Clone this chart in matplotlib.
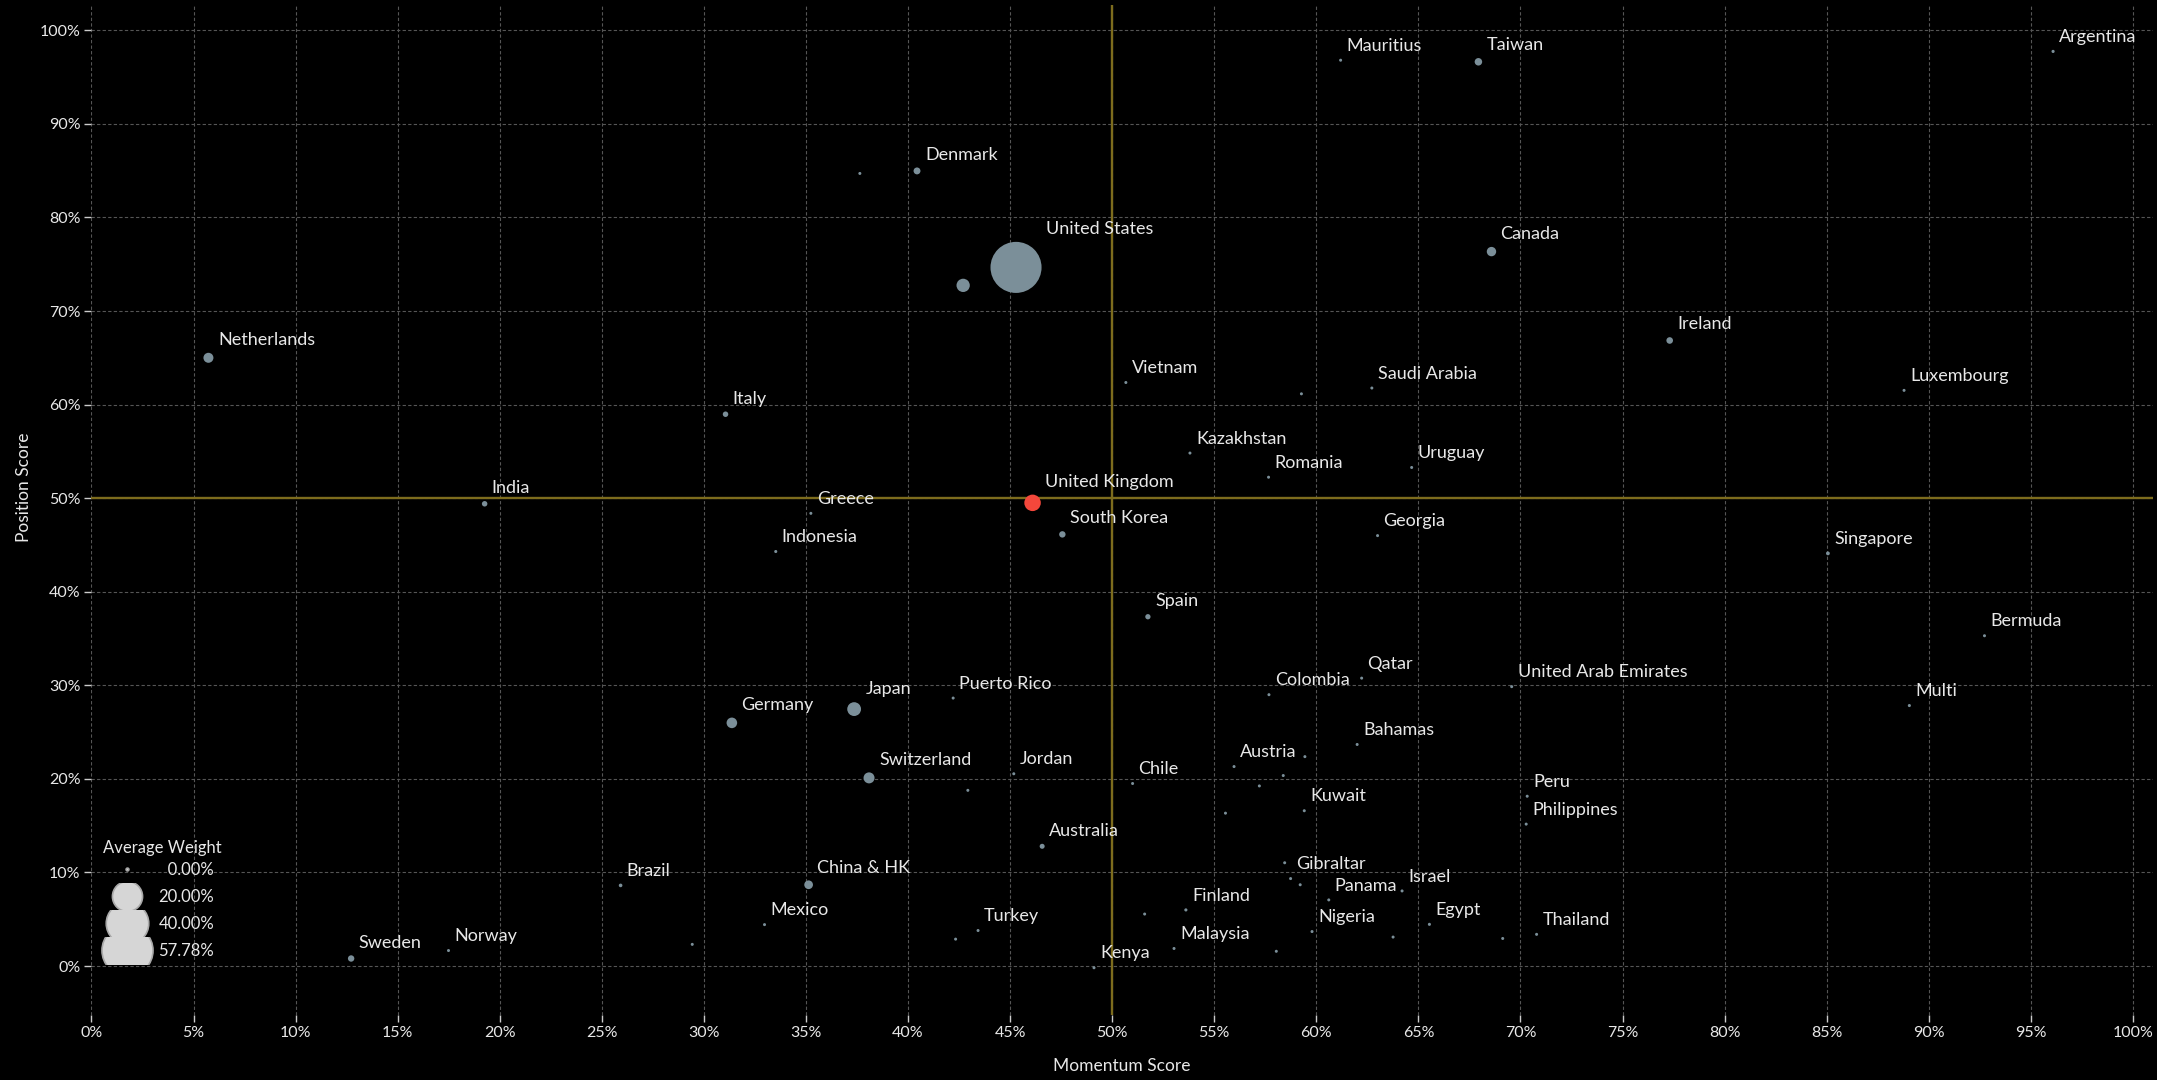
#scatter of momentum vs position score by country, bubble size = average weight
import matplotlib.pyplot as plt
import numpy as np
from matplotlib.lines import Line2D
from matplotlib.ticker import MultipleLocator, PercentFormatter
from matplotlib.transforms import Bbox

names = ['Netherlands', 'India', 'Mauritius', 'Denmark', '', 'United States', '',
         'Vietnam', '', 'Saudi Arabia', 'Italy', 'Kazakhstan', 'Romania', 'Uruguay',
         'United Kingdom', 'Greece', 'South Korea', 'Indonesia', 'Taiwan', 'Argentina',
         'Canada', 'Ireland', 'Luxembourg', 'Georgia', 'Singapore', 'Bermuda',
         'United Arab Emirates', 'Multi', 'Peru', 'Philippines', 'Egypt', '', 'Thailand',
         'Spain', 'Qatar', 'Colombia', 'Puerto Rico', 'Japan', 'Germany', 'Bahamas',
         'Austria', '', 'Jordan', '', 'Switzerland', 'Chile', '', '', 'Kuwait', '',
         'Australia', 'Gibraltar', '', 'China & HK', 'Panama', '', 'Israel', 'Finland',
         '', 'Mexico', 'Nigeria', '', 'Turkey', '', 'Malaysia', '', 'Kenya',
         'Sweden', 'Norway', 'Brazil', '']
momentum = [5.73, 19.26, 61.19, 40.44, 37.64, 45.29, 42.70,
            50.67, 59.27, 62.72, 31.06, 53.81, 57.66, 64.67,
            46.10, 35.24, 47.56, 33.52, 67.94, 96.09,
            68.58, 77.31, 88.79, 63.00, 85.06, 92.73,
            69.57, 89.05, 70.33, 70.28, 65.54, 69.13, 70.79,
            51.75, 62.22, 57.68, 42.21, 37.36, 31.37, 62.00,
            55.97, 59.44, 45.18, 58.38, 38.09, 51.00, 57.21, 42.93, 59.41, 55.55,
            46.57, 58.74, 58.45, 35.13, 60.61, 59.21, 64.20, 53.61,
            51.59, 32.97, 59.79, 63.76, 43.43, 42.33, 53.03, 58.04, 49.11,
            12.72, 17.49, 25.92, 29.43]
position = [65.00, 49.40, 96.80, 84.97, 84.70, 74.66, 72.74,
            62.36, 61.15, 61.77, 58.97, 54.82, 52.24, 53.28,
            49.50, 48.38, 46.13, 44.30, 96.63, 97.74,
            76.35, 66.85, 61.52, 46.00, 44.10, 35.30,
            29.86, 27.84, 18.15, 15.17, 4.46, 2.95, 3.39,
            37.33, 30.77, 29.00, 28.64, 27.46, 25.99, 23.68,
            21.32, 22.38, 20.55, 20.36, 20.11, 19.51, 19.25, 18.78, 16.60, 16.34,
            12.80, 9.35, 11.04, 8.69, 7.07, 8.69, 8.03, 6.00,
            5.56, 4.43, 3.69, 3.10, 3.80, 2.88, 1.88, 1.58, -0.18,
            0.81, 1.66, 8.62, 2.32]
weight = [2.05, 0.50, 0.03, 0.89, 0.03, 57.78, 3.76,
          0.03, 0.03, 0.03, 0.50, 0.03, 0.03, 0.03,
          5.88, 0.03, 0.74, 0.04, 1.08, 0.05,
          1.79, 0.80, 0.03, 0.03, 0.15, 0.03,
          0.03, 0.04, 0.03, 0.03, 0.04, 0.03, 0.03,
          0.45, 0.03, 0.03, 0.03, 4.06, 2.32, 0.03,
          0.03, 0.03, 0.03, 0.03, 2.52, 0.03, 0.03, 0.03, 0.03, 0.03,
          0.39, 0.03, 0.03, 1.51, 0.03, 0.03, 0.03, 0.05,
          0.03, 0.03, 0.03, 0.03, 0.03, 0.03, 0.03, 0.03, 0.03,
          0.74, 0.03, 0.12, 0.03]
highlight = 'United Kingdom'
legend_weights = [0.0, 20.0, 40.0, 57.78]

plt.rcParams['font.family'] = ['Lato', 'DejaVu Sans']

BG = '#000000'
TXT = '#e8e8e8'
DOT = '#7b8f99'
RED = '#f4473b'
GOLD = '#7d6c1d'


def bubble(w):
    return 4 + 1348 * np.asarray(w, dtype=float) / 57.78


fig = plt.figure(figsize=(21.57, 10.8), dpi=100, facecolor=BG)
ax = fig.add_axes([0.0424, 0.0606, 0.9557, 0.9346])
ax.set_facecolor(BG)

x = np.array(momentum) / 100
y = np.array(position) / 100
s = bubble(weight)
colors = [RED if n == highlight else DOT for n in names]
ax.scatter(x, y, s=s, c=colors, linewidths=0, zorder=3)

for n, xi, yi, si in zip(names, x, y, s):
    if not n:
        continue
    r = np.sqrt(si) / 2
    ax.annotate(n, (xi, yi), xytext=(r + 3.2, r + 5.6), textcoords='offset points',
                ha='left', va='baseline', color=TXT, fontsize=13, zorder=4)

ax.axhline(0.5, color=GOLD, lw=1.7, zorder=2)
ax.axvline(0.5, color=GOLD, lw=1.7, zorder=2)

ax.set_xlim(0, 1.0098)
ax.set_ylim(-0.0518, 1.0268)
ax.xaxis.set_major_locator(MultipleLocator(0.05))
ax.yaxis.set_major_locator(MultipleLocator(0.1))
ax.xaxis.set_major_formatter(PercentFormatter(1.0, decimals=0))
ax.yaxis.set_major_formatter(PercentFormatter(1.0, decimals=0))
ax.grid(True, color='#555555', lw=0.8, ls=(0, (3, 2)))
ax.set_axisbelow(True)
ax.tick_params(colors='#cccccc', labelcolor=TXT, labelsize=11.5, length=5, width=1, pad=3)
for sp in ax.spines.values():
    sp.set_visible(False)

ax.set_xlabel('Momentum Score', color=TXT, fontsize=12.5)
ax.set_ylabel('Position Score', color=TXT, fontsize=12.5)
ax.xaxis.set_label_coords(0.5, -0.043)
ax.yaxis.set_label_coords(-0.029, 0.522)

handles = [Line2D([], [], ls='', marker='o', markersize=np.sqrt(bubble(w)),
                  markerfacecolor='#d6d6d6', markeredgecolor='#a8a8a8', markeredgewidth=1.2)
           for w in legend_weights]
labels = [f'{w:.2f}%'.rjust(6, '\u2007') for w in legend_weights]
leg = ax.legend(handles, labels, title='Average Weight', loc='lower left',
                bbox_to_anchor=(0.0055, 0.055), frameon=False, fontsize=12,
                title_fontsize=12, labelcolor=TXT, handlelength=2.0, handletextpad=0.9,
                labelspacing=0.66, borderpad=0, borderaxespad=0)
leg.get_title().set_color(TXT)
leg._legend_box.sep = 4

fig.canvas.draw()
ax.get_xticklabels()[0].set_ha('left')
renderer = fig.canvas.get_renderer()
for h in leg.legend_handles:
    hb = h.get_window_extent(renderer)
    cy = (hb.y0 + hb.y1) / 2
    h.set_clip_box(Bbox.from_extents(hb.x0 - 3, cy - 13.3, hb.x1 + 3, cy + 13.3))
    h.set_clip_on(True)

fig.savefig('out.png', dpi=100, facecolor=BG)
